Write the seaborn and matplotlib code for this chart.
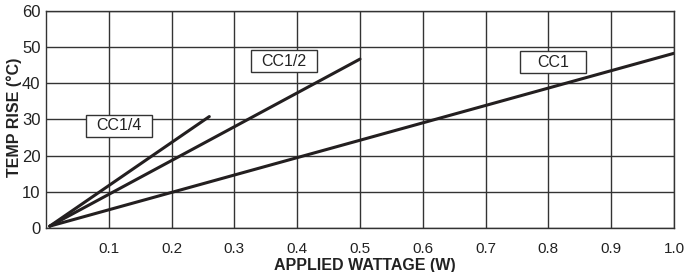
import pandas as pd
import matplotlib
matplotlib.use("Agg")
import matplotlib.pyplot as plt
from matplotlib.patches import Rectangle
import seaborn as sns

# temp rise vs applied wattage for each size
series = ["CC1/4", "CC1/2", "CC1"]
watts_start = [0.006, 0.006, 0.006]
temp_start = [0.5, 0.5, 0.5]
watts_end = [0.26, 0.50, 1.00]
temp_end = [30.8, 46.7, 48.3]

# label box centres (data coords)
label_x = [0.116, 0.379, 0.807]
label_y = [28.3, 46.1, 45.8]

x_ticks = [0.1, 0.2, 0.3, 0.4, 0.5, 0.6, 0.7, 0.8, 0.9, 1.0]
y_ticks = [0, 10, 20, 30, 40, 50, 60]

rows = []
for s, x0, y0, x1, y1 in zip(series, watts_start, temp_start, watts_end, temp_end):
    rows.append({"series": s, "watts": x0, "temp": y0})
    rows.append({"series": s, "watts": x1, "temp": y1})
df = pd.DataFrame(rows)

sns.set_style("white")
plt.rcParams["font.family"] = ["Liberation Sans", "DejaVu Sans"]

grid_color = "#333333"
line_color = "#231f20"
text_color = "#222222"

fig = plt.figure(figsize=(6.89, 2.72), dpi=100)
ax = fig.add_axes([0.0668, 0.162, 0.9114, 0.7976])

sns.lineplot(data=df, x="watts", y="temp", units="series", estimator=None,
             color=line_color, linewidth=2.2, ax=ax, legend=False)

ax.set_xlim(0, 1.0)
ax.set_ylim(0, 60)
ax.set_xticks(x_ticks)
ax.set_xticklabels([f"{t:.1f}" for t in x_ticks])
ax.set_yticks(y_ticks)
ax.grid(True, color=grid_color, linewidth=1.0)
ax.set_axisbelow(True)
for sp in ax.spines.values():
    sp.set_color(grid_color)
    sp.set_linewidth(1.0)

ax.tick_params(axis="x", length=0, pad=10, labelsize=11, colors=text_color)
ax.tick_params(axis="y", length=3, width=1, pad=1, labelsize=12,
               colors=text_color, color=grid_color)

ax.set_xlabel("APPLIED WATTAGE (W)", fontsize=11.5, fontweight="bold",
              color=text_color)
ax.xaxis.set_label_coords(0.508, -0.139)
ax.set_ylabel("TEMP RISE (°C)", fontsize=11.5, fontweight="bold",
              color=text_color)
ax.yaxis.set_label_coords(-0.039, 0.51)

# fixed size label boxes, like the original
box_w, box_h = 0.105, 6.1
for s, lx, ly in zip(series, label_x, label_y):
    ax.add_patch(Rectangle((lx - box_w / 2, ly - box_h / 2), box_w, box_h,
                           facecolor="white", edgecolor="#333333",
                           linewidth=1.0, zorder=4))
    ax.text(lx, ly, s, ha="center", va="center", fontsize=11.5,
            color=text_color, zorder=5)

fig.savefig("out.png", dpi=100)
